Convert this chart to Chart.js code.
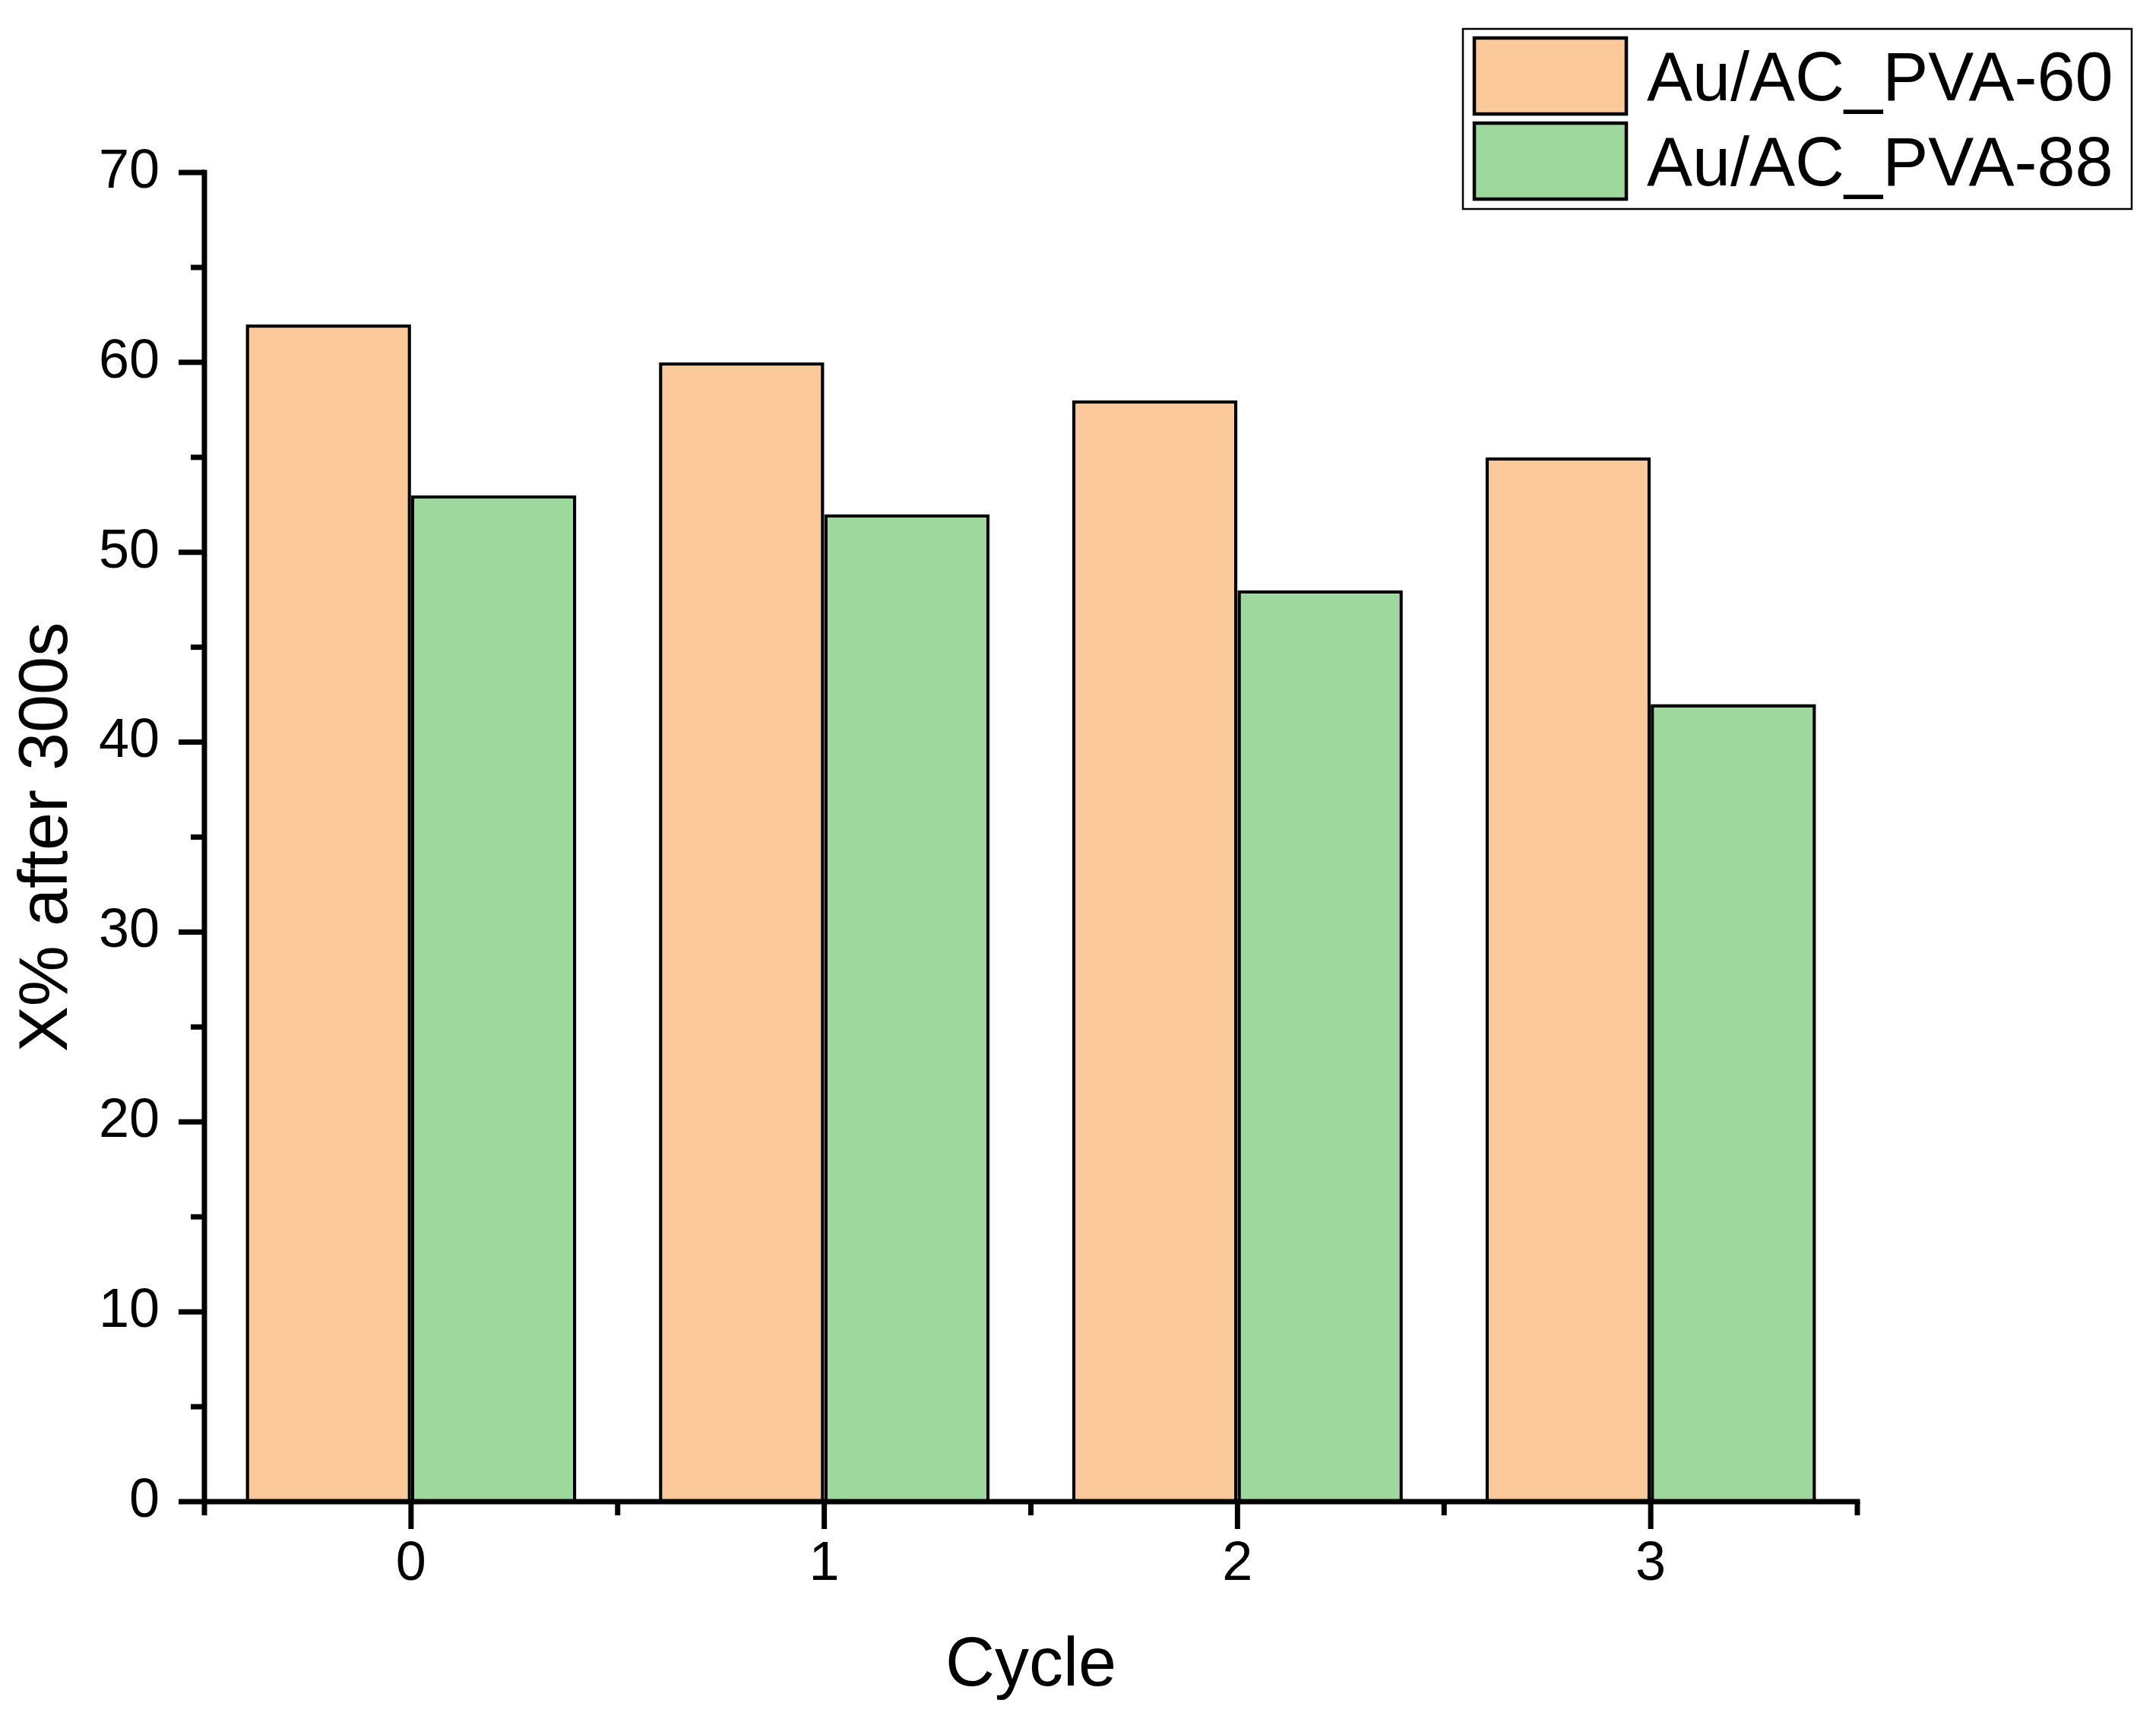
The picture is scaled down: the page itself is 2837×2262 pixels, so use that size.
<!DOCTYPE html>
<html><head><meta charset="utf-8">
<script src="https://cdn.jsdelivr.net/npm/chart.js@4/dist/chart.umd.min.js"></script>
<style>html,body{margin:0;padding:0;background:#fff;}canvas{display:block;}</style>
</head><body>
<canvas id="c" width="2837" height="2262" style="width:2837px;height:2262px"></canvas>
<script>
const cycles = ['0', '1', '2', '3'];
const pva60 = [62, 60, 58, 55];
const pva88 = [53, 52, 48, 42];
const seriesNames = ['Au/AC_PVA-60', 'Au/AC_PVA-88'];
const yMin = 0, yMax = 70, yStep = 10;

const FONT = "'Liberation Sans', Arial, sans-serif";

const axesPlugin = {
  id: 'originAxes',
  afterDatasetsDraw(chart) {
    const ctx = chart.ctx;
    const xs = chart.scales.x, ys = chart.scales.y;
    const lw = 7;
    ctx.save();
    ctx.strokeStyle = '#000';
    ctx.lineWidth = lw;
    ctx.lineCap = 'butt';
    const x0 = xs.getPixelForValue(-0.5);
    const x1 = xs.getPixelForValue(cycles.length - 0.5);
    const yb = ys.getPixelForValue(yMin);
    const yt = ys.getPixelForValue(yMax);
    ctx.beginPath();
    ctx.moveTo(x0, yt - lw / 2);
    ctx.lineTo(x0, yb + lw / 2);
    ctx.stroke();
    ctx.beginPath();
    ctx.moveTo(x0 - lw / 2, yb);
    ctx.lineTo(x1 + lw / 2, yb);
    ctx.stroke();
    for (let v = yMin; v <= yMax; v += yStep) {
      const p = ys.getPixelForValue(v);
      ctx.beginPath(); ctx.moveTo(x0, p); ctx.lineTo(x0 - 34, p); ctx.stroke();
      if (v + yStep / 2 < yMax) {
        const q = ys.getPixelForValue(v + yStep / 2);
        ctx.beginPath(); ctx.moveTo(x0, q); ctx.lineTo(x0 - 18, q); ctx.stroke();
      }
    }
    for (let i = 0; i < cycles.length; i++) {
      const p = xs.getPixelForValue(i);
      ctx.beginPath(); ctx.moveTo(p, yb); ctx.lineTo(p, yb + 36); ctx.stroke();
    }
    for (let i = 0; i <= cycles.length; i++) {
      const q = xs.getPixelForValue(i - 0.5);
      ctx.beginPath(); ctx.moveTo(q, yb); ctx.lineTo(q, yb + 18); ctx.stroke();
    }
    ctx.restore();
  }
};

const legendPlugin = {
  id: 'boxLegend',
  afterDraw(chart) {
    const ctx = chart.ctx;
    const W = chart.width;
    const left = W - 912, top = 38, right = W - 32, bottom = 275;
    ctx.save();
    ctx.fillStyle = '#fff';
    ctx.fillRect(left, top, right - left, bottom - top);
    ctx.strokeStyle = '#000';
    ctx.lineWidth = 2.5;
    ctx.strokeRect(left, top, right - left, bottom - top);
    chart.data.datasets.forEach((ds, i) => {
      const sy = 50 + i * 112;
      ctx.fillStyle = ds.backgroundColor;
      ctx.fillRect(left + 15, sy, 200, 100);
      ctx.lineWidth = 4.5;
      ctx.strokeStyle = '#000';
      ctx.strokeRect(left + 15, sy, 200, 100);
      ctx.fillStyle = '#000';
      ctx.font = '90px ' + FONT;
      ctx.textBaseline = 'alphabetic';
      ctx.textAlign = 'left';
      ctx.fillText(ds.label, left + 242, sy + 82);
    });
    ctx.restore();
  }
};

new Chart(document.getElementById('c'), {
  type: 'bar',
  data: {
    labels: cycles,
    datasets: [
      { label: seriesNames[0], data: pva60, backgroundColor: '#FBC999', borderColor: '#000', borderWidth: 4.5, borderSkipped: 'start' },
      { label: seriesNames[1], data: pva88, backgroundColor: '#9ED89C', borderColor: '#000', borderWidth: 4.5, borderSkipped: 'start' }
    ]
  },
  options: {
    responsive: false,
    devicePixelRatio: 1,
    animation: false,
    events: [],
    categoryPercentage: 0.8,
    barPercentage: 1.0,
    layout: { padding: { left: 0, top: 227, right: 393, bottom: 0 } },
    plugins: { legend: { display: false }, tooltip: { enabled: false } },
    scales: {
      x: {
        grid: { display: false, drawTicks: false },
        border: { display: false },
        ticks: { color: '#000', font: { family: FONT, size: 72 }, padding: 40, maxRotation: 0 },
        title: { display: true, text: 'Cycle', color: '#000', font: { family: FONT, size: 90 }, padding: { top: 0, bottom: 15 } },
        afterFit(s) { s.height = 286; }
      },
      y: {
        min: yMin, max: yMax,
        grid: { display: false, drawTicks: false },
        border: { display: false },
        ticks: { stepSize: yStep, color: '#000', font: { family: FONT, size: 72 }, padding: 59 },
        title: { display: true, text: 'X% after 300s', color: '#000', font: { family: FONT, size: 90 }, padding: { top: 9, bottom: 0 } },
        afterFit(s) { s.width = 269; }
      }
    }
  },
  plugins: [axesPlugin, legendPlugin]
});
</script>
</body></html>
